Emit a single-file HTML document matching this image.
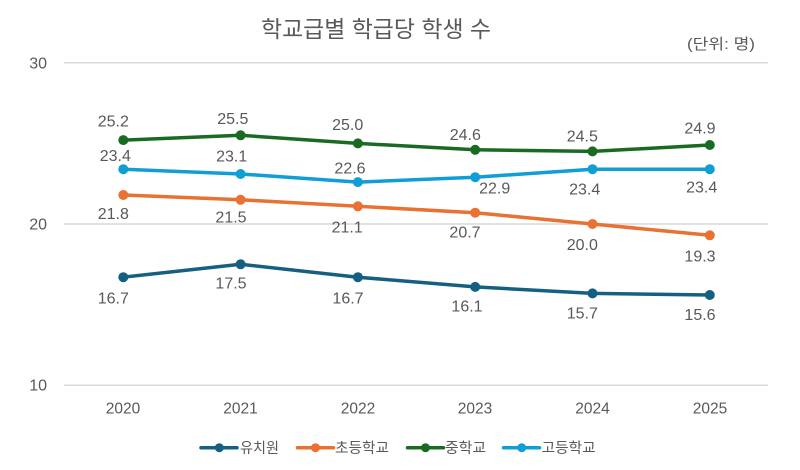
<!DOCTYPE html>
<html>
<head>
<meta charset="utf-8">
<style>
html,body{margin:0;padding:0;background:#fff;}
svg{display:block;}
text{font-family:"Liberation Sans","Noto Sans CJK KR",sans-serif;fill:#595959;}
</style>
</head>
<body>
<svg width="800" height="470" viewBox="0 0 800 470" xmlns="http://www.w3.org/2000/svg">
<rect width="800" height="470" fill="#fff"/>
<!-- title -->
<text x="376" y="37" font-size="23" text-anchor="middle" textLength="230" lengthAdjust="spacingAndGlyphs">학교급별 학급당 학생 수</text>
<text x="721" y="49" font-size="15" text-anchor="middle" textLength="68" lengthAdjust="spacingAndGlyphs">(단위: 명)</text>
<!-- gridlines -->
<g stroke="#d9d9d9" stroke-width="1.5">
<line x1="64" y1="62.7" x2="768" y2="62.7"/>
<line x1="64" y1="224" x2="768" y2="224"/>
<line x1="64" y1="385.3" x2="768" y2="385.3"/>
</g>
<!-- y labels -->
<g font-size="16" text-anchor="end">
<text x="47" y="68.5">30</text>
<text x="47" y="229.5">20</text>
<text x="47" y="390.5">10</text>
</g>
<!-- x labels -->
<g font-size="15.5" text-anchor="middle">
<text x="123" y="413.5">2020</text>
<text x="240.5" y="413.5">2021</text>
<text x="358" y="413.5">2022</text>
<text x="475" y="413.5">2023</text>
<text x="592.5" y="413.5">2024</text>
<text x="710" y="413.5">2025</text>
</g>
<!-- series -->
<g fill="none" stroke-width="3.5" stroke-linejoin="round" stroke-linecap="round">
<polyline stroke="#156082" points="123.3,277.2 240.6,264.3 357.9,277.2 475.2,286.9 592.5,293.4 709.8,295.0"/>
<polyline stroke="#E97132" points="123.3,195.0 240.6,199.8 357.9,206.3 475.2,212.7 592.5,224.0 709.8,235.3"/>
<polyline stroke="#196B24" points="123.3,140.1 240.6,135.3 357.9,143.4 475.2,149.8 592.5,151.4 709.8,145.0"/>
<polyline stroke="#0F9ED5" points="123.3,169.2 240.6,174.0 357.9,182.1 475.2,177.2 592.5,169.2 709.8,169.2"/>
</g>
<g fill="#156082">
<circle cx="123.3" cy="277.2" r="5"/><circle cx="240.6" cy="264.3" r="5"/><circle cx="357.9" cy="277.2" r="5"/><circle cx="475.2" cy="286.9" r="5"/><circle cx="592.5" cy="293.4" r="5"/><circle cx="709.8" cy="295.0" r="5"/>
</g>
<g fill="#E97132">
<circle cx="123.3" cy="195.0" r="5"/><circle cx="240.6" cy="199.8" r="5"/><circle cx="357.9" cy="206.3" r="5"/><circle cx="475.2" cy="212.7" r="5"/><circle cx="592.5" cy="224.0" r="5"/><circle cx="709.8" cy="235.3" r="5"/>
</g>
<g fill="#196B24">
<circle cx="123.3" cy="140.1" r="5"/><circle cx="240.6" cy="135.3" r="5"/><circle cx="357.9" cy="143.4" r="5"/><circle cx="475.2" cy="149.8" r="5"/><circle cx="592.5" cy="151.4" r="5"/><circle cx="709.8" cy="145.0" r="5"/>
</g>
<g fill="#0F9ED5">
<circle cx="123.3" cy="169.2" r="5"/><circle cx="240.6" cy="174.0" r="5"/><circle cx="357.9" cy="182.1" r="5"/><circle cx="475.2" cy="177.2" r="5"/><circle cx="592.5" cy="169.2" r="5"/><circle cx="709.8" cy="169.2" r="5"/>
</g>
<!-- data labels -->
<g font-size="16" text-anchor="middle">
<!-- green -->
<text x="113.3" y="126.7">25.2</text>
<text x="232.8" y="124">25.5</text>
<text x="347.7" y="130">25.0</text>
<text x="465.3" y="140">24.6</text>
<text x="582.3" y="141.7">24.5</text>
<text x="700" y="133.3">24.9</text>
<!-- blue -->
<text x="115.3" y="161">23.4</text>
<text x="231.7" y="161.7">23.1</text>
<text x="350" y="173.3">22.6</text>
<text x="494.7" y="193.3">22.9</text>
<text x="584.7" y="194.3">23.4</text>
<text x="701.7" y="192.3">23.4</text>
<!-- orange -->
<text x="113.3" y="219">21.8</text>
<text x="231" y="222.7">21.5</text>
<text x="347.2" y="232.7">21.1</text>
<text x="465" y="237.3">20.7</text>
<text x="582.3" y="250">20.0</text>
<text x="700" y="261.7">19.3</text>
<!-- navy -->
<text x="113.3" y="303.3">16.7</text>
<text x="231" y="288.3">17.5</text>
<text x="348" y="303.3">16.7</text>
<text x="467" y="311.7">16.1</text>
<text x="582.3" y="318.3">15.7</text>
<text x="700" y="320">15.6</text>
</g>
<!-- legend -->
<g stroke-width="3.5" stroke-linecap="round">
<line x1="201" y1="447.7" x2="237" y2="447.7" stroke="#156082"/>
<line x1="297.5" y1="447.7" x2="333.5" y2="447.7" stroke="#E97132"/>
<line x1="407.5" y1="447.7" x2="443.5" y2="447.7" stroke="#196B24"/>
<line x1="503.5" y1="447.7" x2="539.5" y2="447.7" stroke="#0F9ED5"/>
</g>
<circle cx="219.3" cy="447.7" r="4.5" fill="#156082"/>
<circle cx="315.5" cy="447.7" r="4.5" fill="#E97132"/>
<circle cx="425.5" cy="447.7" r="4.5" fill="#196B24"/>
<circle cx="521.7" cy="447.7" r="4.5" fill="#0F9ED5"/>
<g font-size="14.5">
<text x="240" y="453" textLength="39" lengthAdjust="spacingAndGlyphs">유치원</text>
<text x="335" y="453" textLength="54" lengthAdjust="spacingAndGlyphs">초등학교</text>
<text x="445" y="453" textLength="41" lengthAdjust="spacingAndGlyphs">중학교</text>
<text x="541.7" y="453" textLength="54" lengthAdjust="spacingAndGlyphs">고등학교</text>
</g>
</svg>
</body>
</html>
